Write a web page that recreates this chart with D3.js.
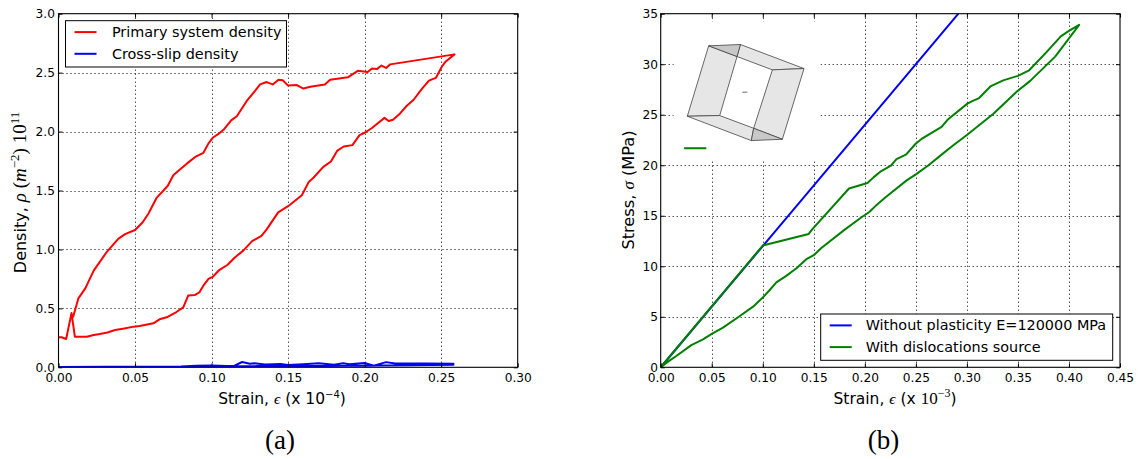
<!DOCTYPE html>
<html><head><meta charset="utf-8">
<script src="https://cdn.jsdelivr.net/npm/d3@7"></script>
<style>html,body{margin:0;padding:0;background:#fff;overflow:hidden}svg{display:block}text{font-family:"DejaVu Sans",sans-serif;fill:#000}.m{font-family:"Liberation Serif",serif;font-style:italic}.r{font-family:"Liberation Serif",serif}</style>
</head><body><svg id="c" width="1141" height="459"></svg>
<script>
const xTicksA=[0,0.05,0.1,0.15,0.2,0.25,0.3];
const yTicksA=[0,0.5,1,1.5,2,2.5,3];
const xTicksB=[0,0.05,0.1,0.15,0.2,0.25,0.3,0.35,0.4,0.45];
const yTicksB=[0,5,10,15,20,25,30,35];
const primaryDensity=[[0,.255],[.002,.255],[.005,.24],[.0085,.46],[.0107,.26],[.0185,.26],[.023,.274],[.027,.282],[.032,.295],[.037,.316],[.043,.33],[.049,.345],[.053,.35],[.062,.373],[.066,.407],[.0707,.424],[.077,.469],[.0815,.508],[.0848,.61],[.089,.613],[.092,.635],[.095,.70],[.098,.75],[.101,.77],[.105,.825],[.1105,.87],[.115,.93],[.1207,.99],[.1265,1.07],[.1326,1.116],[.136,1.17],[.1435,1.314],[.15,1.367],[.159,1.46],[.1635,1.573],[.1667,1.61],[.173,1.70],[.178,1.746],[.182,1.836],[.1863,1.873],[.192,1.885],[.1967,1.97],[.2,1.99],[.2048,2.03],[.209,2.075],[.213,2.116],[.2157,2.09],[.2185,2.10],[.223,2.152],[.2274,2.217],[.232,2.27],[.2374,2.363],[.242,2.432],[.2465,2.455],[.2504,2.55],[.253,2.595],[.2587,2.655],[.2167,2.57],[.214,2.54],[.211,2.56],[.208,2.53],[.2048,2.535],[.202,2.505],[.1955,2.515],[.189,2.46],[.1775,2.44],[.174,2.40],[.1645,2.38],[.16,2.365],[.1557,2.395],[.15,2.39],[.1465,2.435],[.1437,2.44],[.14,2.40],[.136,2.42],[.1317,2.40],[.1284,2.345],[.123,2.26],[.1165,2.13],[.1128,2.095],[.1078,2.015],[.1045,1.98],[.101,1.95],[.098,1.90],[.0947,1.82],[.0893,1.785],[.084,1.73],[.0795,1.68],[.075,1.63],[.0714,1.54],[.0686,1.5],[.0642,1.44],[.0588,1.305],[.055,1.23],[.05,1.165],[.0435,1.13],[.039,1.09],[.0316,.98],[.023,.82],[.0175,.67],[.013,.585],[.0095,.424]];
const crossSlipDensity=[[0,.002],[.03,.004],[.06,.004],[.08,.006],[.09,.014],[.1,.016],[.11,.012],[.115,.014],[.12,.045],[.125,.03],[.128,.034],[.135,.024],[.145,.028],[.15,.02],[.16,.026],[.17,.034],[.18,.022],[.186,.034],[.19,.026],[.2,.036],[.206,.014],[.214,.044],[.22,.032],[.24,.032],[.258,.03],[.258,.022],[.23,.018],[.21,.016],[.2,.014],[.19,.014],[.17,.012],[.15,.012],[.13,.01],[.12,.008],[.1,.005],[.08,.002],[.05,.001],[0,0]];
const elastic=[[0,0],[.1,12],[.2,24],[.29167,35]];
const withSource=[[0,0],[.1,12.05],[.145,13.2],[.148,13.6],[.1845,17.7],[.2026,18.25],[.2085,18.8],[.2157,19.4],[.2255,19.95],[.231,20.6],[.2403,21.05],[.25,22.15],[.2556,22.6],[.2752,23.8],[.281,24.5],[.3005,26.1],[.3063,26.4],[.312,26.65],[.323,27.8],[.3356,28.4],[.35,28.85],[.361,29.4],[.378,31.2],[.392,32.75],[.4007,33.35],[.41,33.9],[.3865,30.75],[.362,28.35],[.349,27.3],[.326,25.1],[.30,23.0],[.287,22.0],[.277,21.2],[.2624,20.0],[.25,19.1],[.241,18.5],[.22,16.8],[.2118,16.1],[.2047,15.4],[.1954,14.75],[.18,13.6],[.1574,11.8],[.15,11.1],[.1427,10.7],[.133,9.8],[.123,9.05],[.1133,8.4],[.1068,7.65],[.1,6.9],[.0905,6.0],[.0758,4.95],[.061,3.93],[.05,3.3],[.0415,2.77],[.03,2.2],[.0153,1.12],[.0072,.56],[0,0]];
// inset: hollow cell, in strain/stress coordinates
const insetBackground=[[.0127,34.22],[.1564,34.22],[.1564,20.46],[.0127,20.46]];
const cubeLightFaces=[
 [[.0470,31.82],[.0748,30.76],[.0578,24.92],[.0261,24.85]],
 [[.0781,31.95],[.1404,29.57],[.1094,29.44],[.0748,30.76]],
 [[.1094,29.44],[.1404,29.57],[.1192,22.57],[.0911,23.66]],
 [[.0261,24.85],[.0578,24.92],[.0911,23.66],[.0888,22.44]]];
const cubeDarkFaces=[
 [[.0470,31.82],[.0781,31.95],[.0748,30.76]],
 [[.0911,23.66],[.1192,22.57],[.0888,22.44]]];
const cubeMark=[[.080,27.23],[.0849,27.23]];
const insetStub=[[.0229,21.68],[.0447,21.68]];

const svg=d3.select("#c");
const RED="#ff0000",BLUE="#0000ff",GREEN="#008000";

function panel(id,box,xDom,yDom,xT,yT,xF,yF,yPad){
  const x=d3.scaleLinear().domain(xDom).range([box.l,box.r]);
  const y=d3.scaleLinear().domain(yDom).range([box.b,box.t]);
  svg.append("clipPath").attr("id",id).append("rect").attr("x",box.l).attr("y",box.t).attr("width",box.r-box.l).attr("height",box.b-box.t);
  const g=svg.append("g");
  const grid=g.append("g").attr("stroke","#000").attr("stroke-width",1).attr("stroke-dasharray","1 3");
  grid.selectAll(".v").data(xT.slice(1,-1)).join("line").attr("x1",d=>Math.round(x(d))+.5).attr("x2",d=>Math.round(x(d))+.5).attr("y1",box.t).attr("y2",box.b);
  grid.selectAll(".h").data(yT.slice(1,-1)).join("line").attr("y1",d=>Math.round(y(d))+.5).attr("y2",d=>Math.round(y(d))+.5).attr("x1",box.l).attr("x2",box.r);
  const marks=g.append("g").attr("clip-path",`url(#${id})`);
  const line=d3.line().x(d=>x(d[0])).y(d=>y(d[1]));
  const ax=(sel,a,tr)=>{const n=sel.append("g").attr("transform",tr).call(a);n.select(".domain").remove();n.selectAll("text").attr("font-size",12.2).attr("fill","#000");n.selectAll("line").attr("stroke","#000");return n;};
  const overlay=g.append("g");
  ax(overlay,d3.axisBottom(x).tickValues(xT).tickFormat(xF).tickSizeInner(-4).tickPadding(5.6),`translate(0,${box.b})`);
  ax(overlay,d3.axisTop(x).tickValues(xT).tickFormat("").tickSizeInner(-4),`translate(0,${box.t})`);
  ax(overlay,d3.axisLeft(y).tickValues(yT).tickFormat(yF).tickSizeInner(-4).tickPadding(yPad),`translate(${box.l},0)`);
  ax(overlay,d3.axisRight(y).tickValues(yT).tickFormat("").tickSizeInner(-4),`translate(${box.r},0)`);
  overlay.append("rect").attr("x",box.l).attr("y",box.t).attr("width",box.r-box.l).attr("height",box.b-box.t).attr("fill","none").attr("stroke","#000").attr("stroke-width",1.1);
  return {x,y,marks,line};
}
function legend(b,items){
  svg.append("rect").attr("x",b.x).attr("y",b.y).attr("width",b.w).attr("height",b.h).attr("fill","#fff").attr("stroke","#000").attr("stroke-width",1);
  items.forEach((it,i)=>{
    const yy=b.y+11.4+i*21.7;
    svg.append("line").attr("x1",b.x+9).attr("x2",b.x+31).attr("y1",yy).attr("y2",yy).attr("stroke",it.c).attr("stroke-width",2);
    svg.append("text").attr("x",b.x+b.tx).attr("y",yy+5).attr("font-size",14.4).text(it.t);
  });
}

// Panel a
const A=panel("ca",{l:58.5,r:517.7,t:13.7,b:367.3},[0,.3],[0,3],xTicksA,yTicksA,d3.format(".2f"),d3.format(".1f"),3.5);
A.marks.append("path").attr("d",A.line(primaryDensity)).attr("fill","none").attr("stroke",RED).attr("stroke-width",2).attr("stroke-linejoin","round");
A.marks.append("path").attr("d",A.line(crossSlipDensity)).attr("fill","none").attr("stroke",BLUE).attr("stroke-width",2).attr("stroke-linejoin","round");
legend({x:65.5,y:20.7,w:221,h:46.3,tx:46.4},[{t:"Primary system density",c:RED},{t:"Cross-slip density",c:BLUE}]);

// Panel b
const B=panel("cb",{l:660.7,r:1120,t:13.7,b:367.3},[0,.45],[0,35],xTicksB,yTicksB,d3.format(".2f"),d3.format("d"),2.8);
const poly=d3.line().x(d=>B.x(d[0])).y(d=>B.y(d[1])).curve(d3.curveLinearClosed);
B.marks.append("path").attr("d",poly(insetBackground)).attr("fill","#fff");
B.marks.selectAll(".lf").data(cubeLightFaces).join("path").attr("d",poly).attr("fill","#e6e6e6").attr("stroke","#444").attr("stroke-width",.8);
B.marks.selectAll(".df").data(cubeDarkFaces).join("path").attr("d",poly).attr("fill","#c8c8c8").attr("stroke","#444").attr("stroke-width",.8);
B.marks.append("path").attr("d",B.line(cubeMark)).attr("stroke","#444").attr("stroke-width",.8);
B.marks.append("path").attr("d",B.line(insetStub)).attr("stroke",GREEN).attr("stroke-width",2);
B.marks.append("path").attr("d",B.line(elastic)).attr("fill","none").attr("stroke",BLUE).attr("stroke-width",2);
B.marks.append("path").attr("d",B.line(withSource)).attr("fill","none").attr("stroke",GREEN).attr("stroke-width",2).attr("stroke-linejoin","round");
legend({x:820.7,y:314,w:292,h:46.3,tx:45},[{t:"Without plasticity E=120000 MPa",c:BLUE},{t:"With dislocations source",c:GREEN}]);

// Axis labels
let t=svg.append("text").attr("x",282).attr("y",404).attr("text-anchor","middle").attr("font-size",15.5);
t.append("tspan").text("Strain, ");t.append("tspan").attr("class","m").text("\u03f5");t.append("tspan").text(" (x 10");
t.append("tspan").attr("dy",-6).attr("font-size",10).text("\u22124");t.append("tspan").attr("dy",6).text(")");

t=svg.append("text").attr("x",895).attr("y",404).attr("text-anchor","middle").attr("font-size",15.5);
t.append("tspan").text("Strain, ");t.append("tspan").attr("class","m").text("\u03f5");t.append("tspan").text(" (x ");
t.append("tspan").attr("class","r").attr("font-size",17).text("10");t.append("tspan").attr("class","r").attr("dy",-7).attr("font-size",12).text("\u22123");t.append("tspan").attr("dy",7).text(")");

t=svg.append("text").attr("transform","translate(26,192.5) rotate(-90)").attr("text-anchor","middle").attr("font-size",16);
t.append("tspan").text("Density, ");t.append("tspan").attr("class","m").attr("font-size",19).text("\u03c1");t.append("tspan").attr("class","r").attr("font-size",19).text(" (");
t.append("tspan").attr("class","m").attr("font-size",19).text("m");t.append("tspan").attr("class","r").attr("dy",-7).attr("font-size",13).text("\u22122");
t.append("tspan").attr("class","r").attr("font-size",19).attr("dy",7).text(") 10");t.append("tspan").attr("class","r").attr("dy",-7).attr("font-size",13).text("11");

t=svg.append("text").attr("transform","translate(634,190) rotate(-90)").attr("text-anchor","middle").attr("font-size",16.2);
t.append("tspan").text("Stress, ");t.append("tspan").attr("class","m").attr("font-size",17).text("\u03c3");t.append("tspan").text(" (MPa)");

svg.append("text").attr("class","r").attr("x",280).attr("y",449).attr("text-anchor","middle").attr("font-size",27).text("(a)");
svg.append("text").attr("class","r").attr("x",883.5).attr("y",449).attr("text-anchor","middle").attr("font-size",27).text("(b)");
</script></body></html>
